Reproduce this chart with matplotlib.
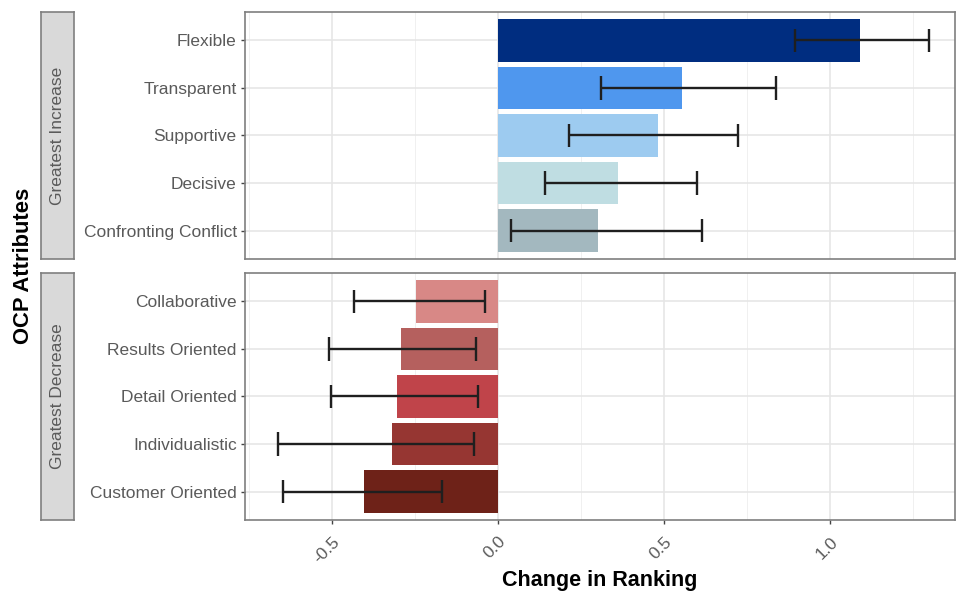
import matplotlib.pyplot as plt
import numpy as np

plt.rcParams['font.family'] = ['Liberation Sans', 'DejaVu Sans']

# data
inc_labels = ["Flexible", "Transparent", "Supportive", "Decisive", "Confronting Conflict"]
inc_values = [1.09, 0.554, 0.482, 0.362, 0.301]
inc_low = [0.895, 0.31, 0.214, 0.141, 0.039]
inc_high = [1.298, 0.837, 0.723, 0.60, 0.615]
inc_colors = ["#002D80", "#4F97EE", "#9DCBF0", "#BFDDE2", "#A3B8BF"]

dec_labels = ["Collaborative", "Results Oriented", "Detail Oriented", "Individualistic", "Customer Oriented"]
dec_values = [-0.248, -0.293, -0.303, -0.32, -0.403]
dec_low = [-0.435, -0.508, -0.503, -0.662, -0.648]
dec_high = [-0.04, -0.067, -0.059, -0.072, -0.169]
dec_colors = ["#D88886", "#B5605E", "#C0444A", "#963632", "#6E2218"]

facets = ["Greatest Increase", "Greatest Decrease"]

W, H = 958, 595
fig = plt.figure(figsize=(W / 100, H / 100), dpi=100)

def px(x0, y0, x1, y1):
    return [x0 / W, 1 - y1 / H, (x1 - x0) / W, (y1 - y0) / H]

xlim = (-0.762, 1.377)
border = "#7f7f7f"
txtc = "#5a5a5a"
errc = "#1f1f1f"

panels = [
    (inc_labels, inc_values, inc_low, inc_high, inc_colors, (12, 259)),
    (dec_labels, dec_values, dec_low, dec_high, dec_colors, (273, 520)),
]

for i, (labels, vals, lo, hi, cols, (top, bot)) in enumerate(panels):
    ax = fig.add_axes(px(245, top, 955, bot))
    n = len(labels)
    ypos = np.arange(n)[::-1] + 1
    ax.barh(ypos, vals, height=0.9, color=cols, zorder=2)
    ax.hlines(ypos, lo, hi, color=errc, lw=1.7, zorder=3)
    ax.vlines(lo, ypos - 0.25, ypos + 0.25, color=errc, lw=1.7, zorder=3)
    ax.vlines(hi, ypos - 0.25, ypos + 0.25, color=errc, lw=1.7, zorder=3)
    ax.set_xlim(*xlim)
    ax.set_ylim(0.4, n + 0.6)
    ax.set_yticks(ypos)
    ax.set_yticklabels(labels, fontsize=12.5, color=txtc)
    ax.set_xticks([-0.5, 0, 0.5, 1.0])
    ax.set_xticks([-0.75, -0.25, 0.25, 0.75, 1.25], minor=True)
    ax.grid(True, which="major", color="#E6E6E6", lw=1.2, zorder=0)
    ax.grid(True, which="minor", axis="x", color="#F0F0F0", lw=0.7, zorder=0)
    ax.set_axisbelow(True)
    for s in ax.spines.values():
        s.set_color(border)
        s.set_linewidth(1.2)
    ax.tick_params(axis="both", which="major", length=3, color="#444444", width=1.0, pad=3)
    ax.tick_params(axis="x", which="minor", length=0)
    if i == 0:
        ax.tick_params(axis="x", labelbottom=False, length=0)
    else:
        ax.tick_params(axis="x", which="major", pad=7)
        ax.set_xticklabels(["-0.5", "0.0", "0.5", "1.0"], fontsize=12.5, color=txtc,
                           rotation=45, ha="right", va="top", rotation_mode="anchor")
        ax.set_xlabel("Change in Ranking", fontsize=15.5, fontweight="bold", labelpad=3)

    # facet strip on the left
    sax = fig.add_axes(px(41, top, 74, bot))
    sax.set_facecolor("#D9D9D9")
    sax.set_xticks([])
    sax.set_yticks([])
    for s in sax.spines.values():
        s.set_color(border)
        s.set_linewidth(1.2)
    sax.text(0.5, 0.5, facets[i], rotation=90, ha="center", va="center",
             fontsize=12.5, color=txtc, transform=sax.transAxes)

fig.text(24 / W, 1 - 266 / H, "OCP Attributes", rotation=90, ha="center", va="center",
         fontsize=15.8, fontweight="bold")

fig.savefig("out.png", dpi=100)
